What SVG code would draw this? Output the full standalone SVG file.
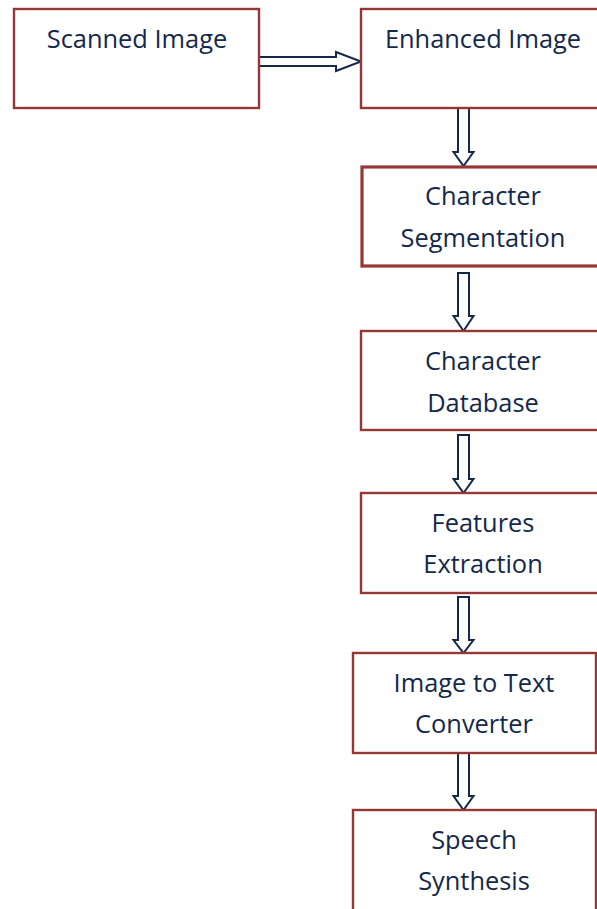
<svg xmlns="http://www.w3.org/2000/svg" width="597" height="909" viewBox="0 0 597 909">
<style>
.box{fill:#fff;stroke:#953735;stroke-width:2.4}
.thick{stroke-width:3.2}
.t{font-family:"Open Sans","Liberation Sans",sans-serif;font-size:25.4px;fill:#14294a;text-anchor:middle}
.arr{fill:#fff;stroke:#14284a;stroke-width:2;stroke-linejoin:miter}
</style>
<rect width="597" height="909" fill="#fff"/>
<g id="connectors">
<path class="arr" d="M259,57 H336 V52 L361,61.5 L336,71 V66 H259 Z"/>
<path class="arr" d="M458,108 V152 H453.5 L463.5,166 L473.5,152 H469 V108 Z"/>
<path class="arr" d="M458,273 V316 H453.5 L463.5,331 L473.5,316 H469 V273 Z"/>
<path class="arr" d="M458,435 V479 H453.5 L463.5,493 L473.5,479 H469 V435 Z"/>
<path class="arr" d="M458,597 V640 H453.5 L463.5,653 L473.5,640 H469 V597 Z"/>
<path class="arr" d="M458,753 V796 H453.5 L463.5,810 L473.5,796 H469 V753 Z"/>
</g>
<g id="scanned">
<rect class="box" x="14" y="9" width="245" height="99"/>
<text class="t" x="137" y="48">Scanned Image</text>
</g>
<g id="enhanced">
<rect class="box" x="361" y="9" width="244" height="99"/>
<text class="t" x="483" y="48">Enhanced Image</text>
</g>
<g id="segmentation">
<rect class="box thick" x="362" y="167" width="243" height="99"/>
<text class="t" x="483" y="205">Character</text>
<text class="t" x="483" y="247">Segmentation</text>
</g>
<g id="database">
<rect class="box" x="361" y="331" width="244" height="99"/>
<text class="t" x="483" y="370">Character</text>
<text class="t" x="483" y="412">Database</text>
</g>
<g id="features">
<rect class="box" x="361" y="493" width="244" height="100"/>
<text class="t" x="483" y="532">Features</text>
<text class="t" x="483" y="573">Extraction</text>
</g>
<g id="converter">
<rect class="box" x="353" y="653" width="243" height="100"/>
<text class="t" x="474" y="692">Image to Text</text>
<text class="t" x="474" y="733">Converter</text>
</g>
<g id="speech">
<rect class="box" x="353" y="810" width="243" height="110"/>
<text class="t" x="474" y="849">Speech</text>
<text class="t" x="474" y="890">Synthesis</text>
</g>
</svg>
